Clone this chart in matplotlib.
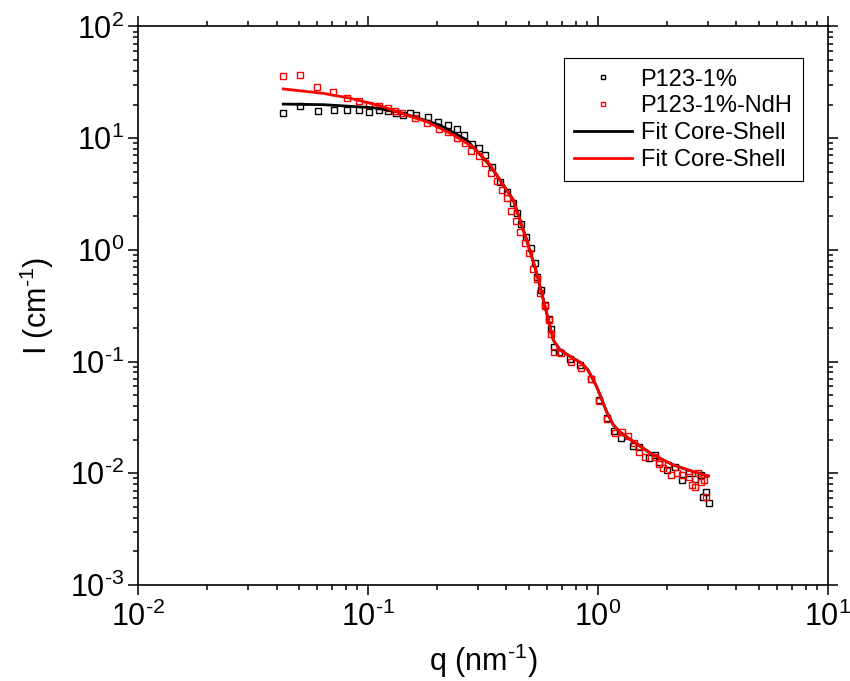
import matplotlib
matplotlib.use('Agg')
import matplotlib.pyplot as plt

plt.rcParams['font.family'] = ['Liberation Sans', 'DejaVu Sans']
plt.rcParams['mathtext.fontset'] = 'custom'
plt.rcParams['mathtext.rm'] = 'Liberation Sans'
plt.rcParams['mathtext.it'] = 'Liberation Sans:italic'
plt.rcParams['mathtext.default'] = 'regular'

# P123-1% data
q_p123 = [0.0427, 0.0506, 0.0604, 0.0710, 0.0808, 0.0911, 0.1013, 0.1113, 0.1222, 0.1323,
          0.1415, 0.1523, 0.1617, 0.1818, 0.2021, 0.2228, 0.2430, 0.2623, 0.2833, 0.3029,
          0.3236, 0.3459, 0.3749, 0.4009, 0.4282, 0.4431, 0.4640, 0.4864, 0.5098, 0.5306,
          0.5446, 0.5668, 0.5865, 0.6105, 0.6266, 0.6437, 0.6786, 0.7578, 0.8375, 0.9277,
          1.007, 1.091, 1.174, 1.263, 1.424, 1.512, 1.671, 1.764, 1.847, 2.001,
          2.162, 2.318, 2.480, 2.649, 2.796, 2.870, 2.949, 3.028]
i_p123 = [16.8, 19.5, 17.6, 17.9, 18.0, 17.8, 17.1, 17.9, 17.5, 16.9,
          16.1, 16.7, 16.2, 15.4, 13.9, 13.2, 12.0, 10.6, 8.93, 8.17,
          7.03, 5.52, 4.08, 3.32, 2.61, 2.13, 1.71, 1.31, 1.04, 0.759,
          0.576, 0.438, 0.319, 0.239, 0.195, 0.136, 0.123, 0.105, 0.0932, 0.0699,
          0.0453, 0.0315, 0.0241, 0.0207, 0.0176, 0.0173, 0.0136, 0.0146, 0.0127, 0.0107,
          0.0113, 0.00871, 0.0101, 0.00889, 0.0096, 0.00617, 0.00684, 0.00539]

# P123-1%-NdH data
q_ndh = [0.0428, 0.0506, 0.0602, 0.0704, 0.0808, 0.0911, 0.1010, 0.1116, 0.1222, 0.1310,
         0.1405, 0.1601, 0.1800, 0.2029, 0.2234, 0.2430, 0.2633, 0.2812, 0.3029, 0.3236,
         0.3415, 0.3628, 0.3825, 0.4034, 0.4198, 0.4400, 0.4580, 0.4830, 0.4996, 0.5201,
         0.5446, 0.5595, 0.5900, 0.6142, 0.6266, 0.6437, 0.6882, 0.7654, 0.8409, 0.9296,
         1.007, 1.091, 1.182, 1.271, 1.350, 1.434, 1.512, 1.596, 1.764, 1.847,
         1.922, 2.015, 2.083, 2.212, 2.318, 2.480, 2.563, 2.649, 2.721, 2.813,
         2.891, 2.949]
i_ndh = [36.3, 37.0, 28.6, 25.8, 23.0, 21.7, 19.8, 19.4, 18.8, 17.6,
         16.8, 15.3, 13.8, 12.1, 11.4, 10.0, 9.00, 7.73, 6.93, 6.03,
         4.91, 4.16, 3.44, 2.90, 2.24, 1.83, 1.45, 1.16, 0.932, 0.679,
         0.552, 0.409, 0.315, 0.236, 0.176, 0.123, 0.119, 0.0998, 0.0871, 0.0694,
         0.0447, 0.0304, 0.0231, 0.0233, 0.0216, 0.0188, 0.0154, 0.0141, 0.0141, 0.0121,
         0.0111, 0.0119, 0.0096, 0.0101, 0.0097, 0.0092, 0.00786, 0.00759, 0.0100, 0.00836,
         0.00871, 0.00617]

# core-shell fits
q_fit_high = [0.3749, 0.4282, 0.4898, 0.5415, 0.5984, 0.6393, 0.6837, 0.7807, 0.8494, 0.9048,
              0.987, 1.091, 1.166, 1.246, 1.424, 1.740, 2.125, 2.596, 3.017]
i_fit_high = [4.23, 2.80, 1.226, 0.617, 0.271, 0.156, 0.127, 0.107, 0.0965, 0.0841,
              0.0596, 0.0354, 0.0271, 0.0234, 0.0192, 0.01458, 0.01187, 0.01033, 0.00946]
q_fit_p123 = [0.0428, 0.0639, 0.1054, 0.1332, 0.1574, 0.2056, 0.2686, 0.3392] + q_fit_high
i_fit_p123 = [20.2, 19.95, 18.75, 17.3, 15.6, 13.1, 9.63, 5.7] + i_fit_high
q_fit_ndh = [0.0428, 0.0639, 0.0835, 0.1128, 0.1424, 0.1800, 0.2349, 0.2870, 0.3392] + q_fit_high
i_fit_ndh = [27.6, 25.2, 22.8, 19.5, 16.5, 14.05, 10.7, 8.29, 5.8] + i_fit_high

x_ticks = [0.01, 0.1, 1, 10]
x_labels = [r'$10^{\text{-}2}$', r'$10^{\text{-}1}$', r'$10^{0}$', r'$10^{1}$']
y_ticks = [0.001, 0.01, 0.1, 1, 10, 100]
y_labels = [r'$10^{\text{-}3}$', r'$10^{\text{-}2}$', r'$10^{\text{-}1}$',
            r'$10^{0}$', r'$10^{1}$', r'$10^{2}$']

fig = plt.figure(figsize=(8.5, 6.81), dpi=100)
ax = fig.add_axes([0.1624, 0.1410, 0.8117, 0.8201])

ax.plot(q_p123, i_p123, 's', mfc='none', mec='black', ms=4.2, mew=1.0, label='P123-1%')
ax.plot(q_ndh, i_ndh, 's', mfc='none', mec='red', ms=4.2, mew=1.0, label='P123-1%-NdH')
ax.plot(q_fit_p123, i_fit_p123, '-', color='black', lw=2, label='Fit Core-Shell')
ax.plot(q_fit_ndh, i_fit_ndh, '-', color='red', lw=2, label='Fit Core-Shell')

ax.set_xscale('log')
ax.set_yscale('log')
ax.set_xlim(0.01, 10)
ax.set_ylim(0.001, 100)
ax.set_xticks(x_ticks, x_labels)
ax.set_yticks(y_ticks, y_labels)

ax.tick_params(which='both', direction='out', top=True, right=True, width=1.1)
ax.tick_params(which='major', length=7, labelsize=22)
ax.tick_params(axis='x', which='major', pad=5)
ax.tick_params(axis='y', which='major', pad=3)
ax.tick_params(which='minor', length=3.6)
for s in ax.spines.values():
    s.set_linewidth(1.2)

ax.set_xlabel(r'q (nm$^{\text{-}1}$)', fontsize=22, labelpad=6)
ax.set_ylabel(r'I (cm$^{\text{-}1}$)', fontsize=22, labelpad=10)

lg = ax.legend(loc='upper right', bbox_to_anchor=(0.9638, 0.9436), borderaxespad=0,
               fontsize=17, fancybox=False, framealpha=1, edgecolor='black',
               handlelength=2.45, handletextpad=0.35, labelspacing=0.2, markerscale=0.8,
               borderpad=0.45)
lg.get_frame().set_linewidth(0.8)

fig.savefig('out.png', dpi=100)
